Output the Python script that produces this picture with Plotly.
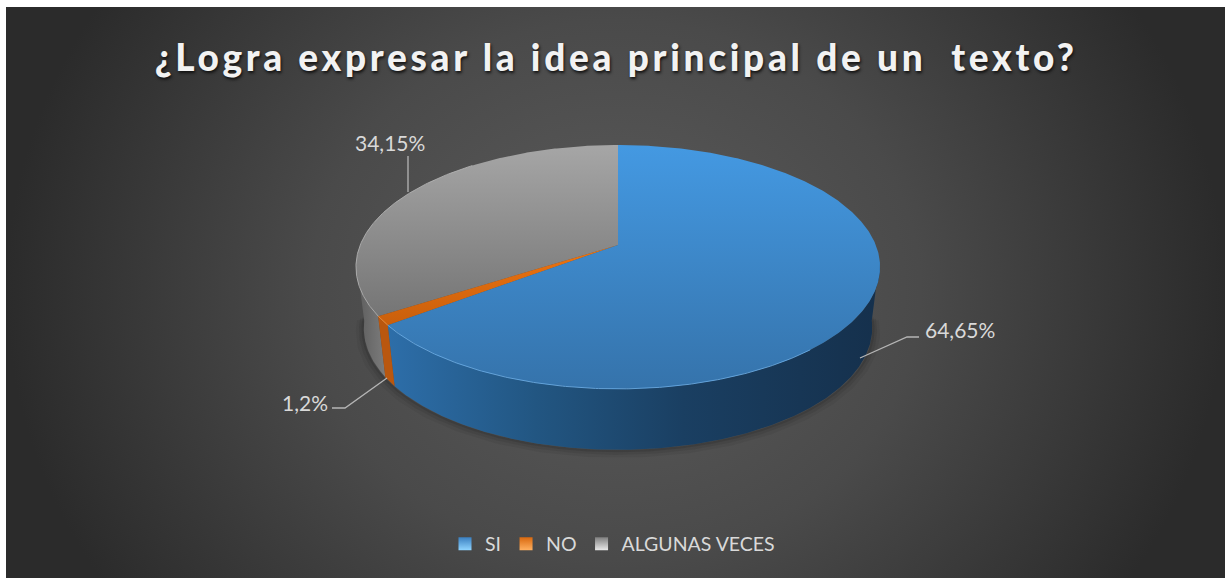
import numpy as np
import plotly.graph_objects as go

# ---- data ----
categories = ["SI", "NO", "ALGUNAS VECES"]
values = [64.65, 1.2, 34.15]
value_labels = ["64,65%", "1,2%", "34,15%"]
title_text = "¿Logra expresar la idea principal de un \u00a0texto?"

# ---- styles ----
top_scales = [
    [[0, "#3573ab"], [1, "#4499e2"]],
    [[0, "#c95f0c"], [1, "#ee7410"]],
    [[0, "#757575"], [1, "#a6a6a6"]],
]
side_scales = [
    [[0, "#2d6ea9"], [0.3, "#225682"], [0.6, "#1a3f62"], [1, "#15304c"]],
    [[0, "#b9570f"], [1, "#b9570f"]],
    [[0, "#5c5c5c"], [1, "#7c7c7c"]],
]
rim_colors = ["#6db1ec", "#f59a4a", "#b9b9b9"]
rim_limits = [(140, 360), (0, 360), (0, 320)]
legend_colors = ["#3a7fc0", "#d9680e", "#7f7f7f"]
legend_light = ["#8fd4ff", "#ffb060", "#e8e8e8"]

# ---- projection of the pie disc (perspective) onto the pixel-sized axes ----
CX, CY, SX, SY, PERSP = 618, 245, 257.8, 118, 0.18
DEPTH, BOTTOM_SCALE = 61, 0.97


def project(theta_deg, bottom=False):
    t = np.radians(theta_deg)
    X, Y = np.sin(t), np.cos(t)
    w = 1 + PERSP * Y
    px, py = SX * X / w, SY * Y / w
    if bottom:
        return CX + px * BOTTOM_SCALE, CY - py + DEPTH
    return CX + px, CY - py


def arc(a, b):
    return np.linspace(a, b, max(int(abs(b - a)) * 2, 6))


fig = go.Figure()

# background panel (extends past the page vertically so the glow stays wide)
fig.add_trace(go.Scatter(
    x=[6, 1225, 1225, 6, 6], y=[-250, -250, 830, 830, -250], mode="lines", fill="toself",
    line=dict(width=0), hoverinfo="skip", showlegend=False,
    fillgradient=dict(type="radial", colorscale=[[0, "#5c5c5c"], [0.5, "#4a4a4a"], [1, "#2b2b2b"]]),
))

# soft shadow under the pie
for grow, alpha in [(4, 0.05), (2.5, 0.07), (1.2, 0.10)]:
    th = arc(95, 265)
    bx, by = project(th, bottom=True)
    fig.add_trace(go.Scatter(
        x=(bx - CX) * (1 + grow / 260) + CX, y=by + grow, mode="lines",
        line=dict(width=grow * 2, color=f"rgba(0,0,0,{alpha})"), hoverinfo="skip", showlegend=False,
    ))

# slice angular ranges
edges = np.cumsum([0] + values) * 3.6
ranges = [(edges[i], edges[i + 1]) for i in range(len(values))]

# sides
for i in [2, 0, 1]:
    a, b = ranges[i]
    a, b = max(a, 97), min(b, 263)
    if b <= a:
        continue
    th = arc(a, b)
    tx, ty = project(th)
    bx, by = project(th, bottom=True)
    fig.add_trace(go.Scatter(
        x=np.r_[tx, bx[::-1]], y=np.r_[ty, by[::-1]], mode="lines", fill="toself",
        line=dict(width=0), hoverinfo="skip", showlegend=False,
        fillgradient=dict(type="horizontal", colorscale=side_scales[i]),
    ))

# tops
for i in [2, 1, 0]:
    a, b = ranges[i]
    th = arc(a, b)
    tx, ty = project(th)
    fig.add_trace(go.Scatter(
        x=np.r_[CX, tx, CX], y=np.r_[CY, ty, CY], mode="lines", fill="toself",
        line=dict(width=0), hoverinfo="skip", showlegend=False,
        fillgradient=dict(type="vertical", colorscale=top_scales[i]),
    ))
    ra, rb = max(a, rim_limits[i][0]), min(b, rim_limits[i][1])
    rx, ry = project(arc(ra, rb))
    fig.add_trace(go.Scatter(
        x=rx, y=ry, mode="lines", line=dict(width=1, color=rim_colors[i]),
        hoverinfo="skip", showlegend=False, opacity=0.8,
    ))

# legend entries
for name, c, lc in zip(categories, legend_colors, legend_light):
    fig.add_trace(go.Scatter(
        x=[None], y=[None], mode="markers", name=name,
        marker=dict(symbol="square", size=13, color=c, line=dict(width=0),
                    gradient=dict(type="vertical", color=lc)),
    ))

# leader lines
leaders = [
    ([860, 907, 919], [358, 337, 337]),
    ([387, 345, 332], [378, 408, 408]),
    ([408, 408], [192, 156]),
]
for lx, ly in leaders:
    fig.add_trace(go.Scatter(x=lx, y=ly, mode="lines", line=dict(width=1.3, color="#b5b5b5"),
                             hoverinfo="skip", showlegend=False))

label_pos = [(960, 329), (305, 402), (390, 142)]
annotations = [
    dict(x=x, y=y, text=t, showarrow=False, xref="x", yref="y",
         font=dict(family="Lato", size=21, color="#d9d9d9"))
    for (x, y), t in zip(label_pos, value_labels)
]

# white page margin at the top and left of the panel
shapes = [
    dict(type="rect", xref="x", yref="y", x0=0, x1=1225, y0=0, y1=7, fillcolor="#ffffff", line=dict(width=0)),
    dict(type="rect", xref="x", yref="y", x0=0, x1=6, y0=0, y1=578, fillcolor="#ffffff", line=dict(width=0)),
]

fig.update_layout(
    width=1225, height=578, autosize=False,
    margin=dict(l=0, r=0, t=0, b=0),
    paper_bgcolor="#ffffff", plot_bgcolor="rgba(0,0,0,0)",
    xaxis=dict(range=[0, 1225], visible=False, fixedrange=True),
    yaxis=dict(range=[578, 0], visible=False, fixedrange=True),
    font=dict(family="Lato", color="#d9d9d9"),
    title=dict(text=title_text, x=0.503, xanchor="center", y=1 - 58 / 578, yanchor="middle",
               font=dict(family="Lato", size=37, weight=900, color="#f2f2f2",
                         shadow="1px 2px 3px #111")),
    legend=dict(orientation="h", x=0.5, xanchor="center", y=1 - 544 / 578, yanchor="middle",
                font=dict(family="Lato", size=19.5, color="#d9d9d9"), bgcolor="rgba(0,0,0,0)"),
    annotations=annotations,
    shapes=shapes,
)

post = ("document.body.style.margin='0';document.body.style.overflow='hidden';"
        "document.querySelectorAll('.gtitle').forEach(function(t){t.style.letterSpacing='3.7px';});")
fig.write_html("out.html", post_script=post, config={"displayModeBar": False})
